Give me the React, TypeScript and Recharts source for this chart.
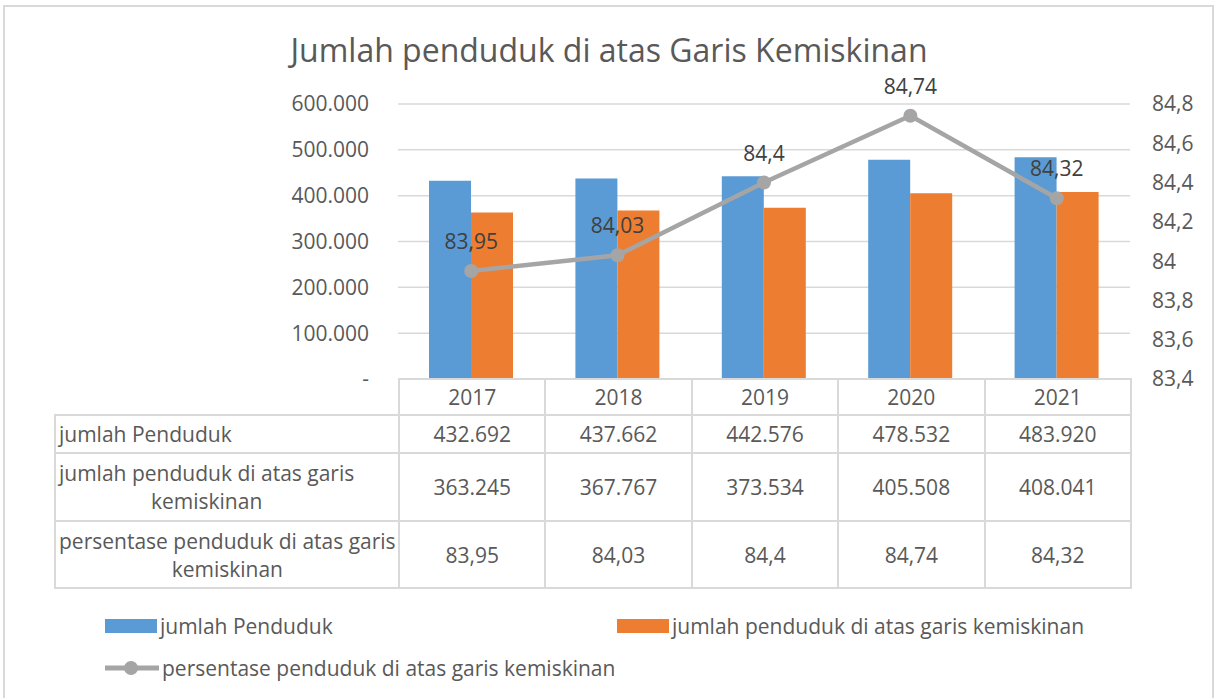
import React from "react";
import {
  ComposedChart,
  Bar,
  Line,
  XAxis,
  YAxis,
  CartesianGrid,
  LabelList,
} from "recharts";

const YEARS = ["2017", "2018", "2019", "2020", "2021"];
const JUMLAH_PENDUDUK = [432692, 437662, 442576, 478532, 483920];
const DI_ATAS_GARIS = [363245, 367767, 373534, 405508, 408041];
const PERSENTASE = [83.95, 84.03, 84.4, 84.74, 84.32];

const LEFT_TICKS = [0, 100000, 200000, 300000, 400000, 500000, 600000];
const RIGHT_TICKS = [83.4, 83.6, 83.8, 84, 84.2, 84.4, 84.6, 84.8];

const SERIES_NAMES = [
  "jumlah Penduduk",
  "jumlah penduduk di atas garis kemiskinan",
  "persentase penduduk di atas garis kemiskinan",
];

const BLUE = "#5B9BD5";
const ORANGE = "#ED7D31";
const GRAY = "#A5A5A5";
const TEXT = "#595959";
const LINE = "#D9D9D9";
const FONT = "'Open Sans', sans-serif";
const FS = 21;

const fmtThousands = (v: number) =>
  v === 0 ? "-" : String(v).replace(/\B(?=(\d{3})+(?!\d))/g, ".");
const fmtDecimal = (v: number) => String(v).replace(".", ",");

const data = YEARS.map((year, i) => ({
  year,
  total: JUMLAH_PENDUDUK[i],
  above: DI_ATAS_GARIS[i],
  pct: PERSENTASE[i],
}));

// plot area box (Excel layout)
const PLOT_LEFT = 398;
const PLOT_RIGHT = 1130;
const PLOT_TOP = 104;
const PLOT_BOTTOM = 379;
const colW = (PLOT_RIGHT - PLOT_LEFT) / YEARS.length;

const cellBorder = `2px solid ${LINE}`;

function DataTable() {
  const rows: { label: React.ReactNode; values: string[]; h: number; wrap: boolean }[] = [
    {
      label: SERIES_NAMES[0],
      values: JUMLAH_PENDUDUK.map(fmtThousands),
      h: 38,
      wrap: false,
    },
    {
      label: (
        <>
          jumlah penduduk di atas garis
          <br />
          kemiskinan
        </>
      ),
      values: DI_ATAS_GARIS.map(fmtThousands),
      h: 68,
      wrap: true,
    },
    {
      label: (
        <>
          persentase penduduk di atas garis
          <br />
          kemiskinan
        </>
      ),
      values: PERSENTASE.map(fmtDecimal),
      h: 67,
      wrap: true,
    },
  ];
  const td: React.CSSProperties = {
    border: cellBorder,
    padding: 0,
    textAlign: "center",
    width: colW,
  };
  return (
    <table
      style={{
        position: "absolute",
        left: 54,
        top: PLOT_BOTTOM - 1,
        borderCollapse: "collapse",
        tableLayout: "fixed",
        fontFamily: FONT,
        fontSize: FS,
        color: TEXT,
        width: PLOT_RIGHT - 54 + 2,
      }}
    >
      <colgroup>
        <col style={{ width: PLOT_LEFT - 54 }} />
        {YEARS.map((y) => (
          <col key={y} style={{ width: colW }} />
        ))}
      </colgroup>
      <tbody>
        <tr style={{ height: 36 }}>
          <td style={{ border: "none", padding: 0 }} />
          {YEARS.map((y) => (
            <td key={y} style={td}>
              {y}
            </td>
          ))}
        </tr>
        {rows.map((r, ri) => (
          <tr key={ri} style={{ height: r.h }}>
            <td style={{ border: cellBorder, padding: "0 0 0 3px", textAlign: "left" }}>
              <span
                style={{
                  display: "inline-block",
                  textAlign: r.wrap ? "center" : "left",
                  lineHeight: "28px",
                  whiteSpace: "nowrap",
                }}
              >
                {r.label}
              </span>
            </td>
            {r.values.map((v, i) => (
              <td key={i} style={td}>
                {v}
              </td>
            ))}
          </tr>
        ))}
      </tbody>
    </table>
  );
}

function LegendBlock() {
  const text: React.CSSProperties = {
    position: "absolute",
    fontFamily: FONT,
    fontSize: FS,
    color: TEXT,
    lineHeight: "24px",
    whiteSpace: "nowrap",
  };
  return (
    <>
      <div style={{ position: "absolute", left: 105, top: 619, width: 52, height: 14, background: BLUE }} />
      <div style={{ ...text, left: 160, top: 614 }}>{SERIES_NAMES[0]}</div>
      <div style={{ position: "absolute", left: 617, top: 619, width: 52, height: 14, background: ORANGE }} />
      <div style={{ ...text, left: 672, top: 614 }}>{SERIES_NAMES[1]}</div>
      <svg style={{ position: "absolute", left: 103, top: 658 }} width={58} height={20}>
        <line x1={2} y1={10} x2={56} y2={10} stroke={GRAY} strokeWidth={5} />
        <circle cx={28} cy={10} r={7} fill={GRAY} />
      </svg>
      <div style={{ ...text, left: 162, top: 656 }}>{SERIES_NAMES[2]}</div>
    </>
  );
}

export default function App() {
  return (
    <div
      style={{
        position: "absolute",
        left: 0,
        top: 0,
        width: 1218,
        height: 698,
        background: "#fff",
        overflow: "hidden",
      }}
    >
      <div
        style={{
          position: "absolute",
          left: 3,
          top: 5,
          width: 1207,
          height: 720,
          border: `2px solid ${LINE}`,
        }}
      />
      <div
        style={{
          position: "absolute",
          left: 0,
          width: 1218,
          top: 29,
          textAlign: "center",
          fontFamily: FONT,
          fontSize: 32,
          color: TEXT,
          lineHeight: "42px",
        }}
      >
        Jumlah penduduk di atas Garis Kemiskinan
      </div>
      <div style={{ position: "absolute", left: 0, top: 0 }}>
        <ComposedChart
          width={1218}
          height={698}
          data={data}
          margin={{ top: PLOT_TOP, right: 8, bottom: 698 - PLOT_BOTTOM, left: PLOT_LEFT - 80 }}
          barCategoryGap={31}
          barGap={0}
        >
          <CartesianGrid yAxisId="left" vertical={false} stroke={LINE} strokeWidth={1.5} />
          <XAxis dataKey="year" hide />
          <YAxis
            yAxisId="left"
            orientation="left"
            width={80}
            domain={[0, 600000]}
            ticks={LEFT_TICKS}
            tickFormatter={fmtThousands}
            axisLine={false}
            tickLine={false}
            tickSize={0}
            tickMargin={29}
            tick={{ fontSize: FS, fill: TEXT, fontFamily: FONT }}
          />
          <YAxis
            yAxisId="right"
            orientation="right"
            width={80}
            domain={[83.4, 84.8]}
            ticks={RIGHT_TICKS}
            tickFormatter={fmtDecimal}
            axisLine={false}
            tickLine={false}
            tickSize={0}
            tickMargin={22}
            tick={{ fontSize: FS, fill: TEXT, fontFamily: FONT, textAnchor: "start" }}
          />
          <Bar yAxisId="left" dataKey="total" name={SERIES_NAMES[0]} fill={BLUE} isAnimationActive={false} />
          <Bar yAxisId="left" dataKey="above" name={SERIES_NAMES[1]} fill={ORANGE} isAnimationActive={false} />
          <Line
            yAxisId="right"
            dataKey="pct"
            name={SERIES_NAMES[2]}
            stroke={GRAY}
            strokeWidth={4.5}
            dot={{ r: 7, fill: GRAY, stroke: "none" }}
            activeDot={false}
            isAnimationActive={false}
          >
            <LabelList
              dataKey="pct"
              position="top"
              offset={22}
              formatter={(v: any) => fmtDecimal(Number(v))}
              style={{ fontSize: FS, fill: "#404040", fontFamily: FONT }}
            />
          </Line>
        </ComposedChart>
      </div>
      <DataTable />
      <LegendBlock />
    </div>
  );
}
